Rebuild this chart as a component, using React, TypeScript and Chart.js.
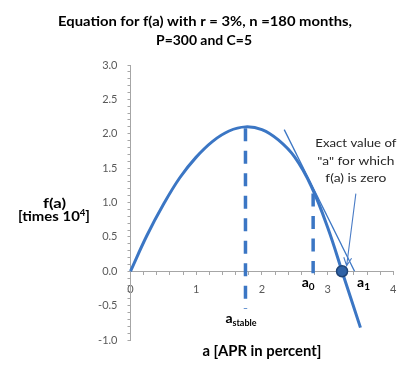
import React, { useEffect, useRef } from 'react';
import { Chart, registerables } from 'chart.js';

Chart.register(...registerables);

// ---- data ----
const curveA = [0, 0.25, 0.5, 0.75, 1.0, 1.25, 1.5, 1.75, 2.0, 2.25, 2.5, 2.75, 3.0, 3.25, 3.5];
const curveF = [0, 0.52, 0.97, 1.36, 1.66, 1.89, 2.04, 2.1, 2.06, 1.91, 1.66, 1.24, 0.64, -0.09, -0.82];
const tangentA = [2.34, 3.41];
const tangentF = [2.06, 0];
const stableA = [1.75, 1.75];
const stableF = [2.08, -0.55];
const a0A = [2.78, 2.78];
const a0F = [1.13, -0.03];
const rootA = [3.22];
const rootF = [0];
const a1Value = 3.41;
const arrowA = [3.43, 3.29];
const arrowF = [1.13, 0.08];
const xMin = 0;
const xMax = 4;
const yMin = -1;
const yMax = 3;
const titleLines = ['Equation for f(a) with r = 3%, n =180 months,', 'P=300 and C=5'];
const noteLines = ['Exact value of', '"a" for which', 'f(a) is zero'];
const xTitle = 'a [APR in percent]';

const BLUE = '#3b76c4';
const FONT = 'Lato, "Noto Sans", sans-serif';

const pts = (xs: number[], ys: number[]) => xs.map((v, i) => ({ x: v, y: ys[i] }));

type Run = { text: string; font: string; dy?: number };

function drawRuns(ctx: CanvasRenderingContext2D, runs: Run[], cx: number, baseline: number, targetW?: number) {
  let total = 0;
  const widths = runs.map((r) => {
    ctx.font = r.font;
    const w = ctx.measureText(r.text).width;
    total += w;
    return w;
  });
  const s = targetW ? targetW / total : 1;
  ctx.save();
  ctx.translate(cx - (total * s) / 2, baseline);
  ctx.scale(s, 1);
  ctx.textAlign = 'left';
  ctx.textBaseline = 'alphabetic';
  let xx = 0;
  runs.forEach((r, i) => {
    ctx.font = r.font;
    ctx.fillText(r.text, xx, r.dy || 0);
    xx += widths[i];
  });
  ctx.restore();
}

const overlay = {
  id: 'overlay',
  afterDraw(chart: any) {
    const { ctx, scales } = chart;
    const x = scales.x;
    const y = scales.y;
    ctx.save();
    ctx.fillStyle = '#000';
    const B14 = `bold 14px ${FONT}`;
    const B15 = `bold 15px ${FONT}`;
    drawRuns(ctx, [{ text: titleLines[0], font: B14 }], 205, 26, 294);
    drawRuns(ctx, [{ text: titleLines[1], font: B14 }], 204, 44.5, 96);
    // y title
    drawRuns(ctx, [{ text: 'f(a)', font: B14 }], 54.5, 208, 23);
    drawRuns(
      ctx,
      [
        { text: '[times 10', font: B14 },
        { text: '4', font: `bold 9px ${FONT}`, dy: -5 },
        { text: ']', font: B14 },
      ],
      54,
      221,
      72
    );
    // x title
    drawRuns(ctx, [{ text: xTitle, font: B15 }], (x.left + x.right) / 2, 356, 119);
    // a labels
    const subF = `bold 9px ${FONT}`;
    const aF = `bold 14px ${FONT}`;
    drawRuns(
      ctx,
      [
        { text: 'a', font: aF },
        { text: 'stable', font: subF, dy: 3 },
      ],
      x.getPixelForValue(stableA[0]) - 4.5,
      322.5
    );
    drawRuns(
      ctx,
      [
        { text: 'a', font: aF },
        { text: '0', font: `bold 10px ${FONT}`, dy: 3 },
      ],
      x.getPixelForValue(a0A[0]) - 5,
      286.5
    );
    drawRuns(
      ctx,
      [
        { text: 'a', font: aF },
        { text: '1', font: `bold 10px ${FONT}`, dy: 3 },
      ],
      x.getPixelForValue(a1Value) + 9,
      286.5
    );
    // note
    ctx.fillStyle = '#262626';
    const R12 = `12px ${FONT}`;
    const noteX = x.getPixelForValue(3.43);
    drawRuns(ctx, [{ text: noteLines[0], font: R12 }], noteX, 146.5, 81);
    drawRuns(ctx, [{ text: noteLines[1], font: R12 }], noteX, 164.5, 77);
    drawRuns(ctx, [{ text: noteLines[2], font: R12 }], noteX, 181.5, 61);
    // arrow
    const x1 = x.getPixelForValue(arrowA[0]);
    const y1 = y.getPixelForValue(arrowF[0]);
    const x2 = x.getPixelForValue(arrowA[1]);
    const y2 = y.getPixelForValue(arrowF[1]);
    ctx.strokeStyle = '#4a7cc6';
    ctx.lineWidth = 1.1;
    ctx.beginPath();
    ctx.moveTo(x1, y1);
    ctx.lineTo(x2, y2);
    const ang = Math.atan2(y2 - y1, x2 - x1);
    const L = 9;
    ctx.moveTo(x2 - L * Math.cos(ang - 0.45), y2 - L * Math.sin(ang - 0.45));
    ctx.lineTo(x2, y2);
    ctx.lineTo(x2 - L * Math.cos(ang + 0.45), y2 - L * Math.sin(ang + 0.45));
    ctx.stroke();
    ctx.restore();
  },
};

const isMultiple = (v: number, step: number) => Math.abs(v / step - Math.round(v / step)) < 1e-6;

export default function App() {
  const ref = useRef<HTMLCanvasElement>(null);
  useEffect(() => {
    const chart = new Chart(ref.current as HTMLCanvasElement, {
      type: 'line',
      data: {
        datasets: [
          {
            data: pts(rootA, rootF),
            showLine: false,
            pointRadius: 5.5,
            pointBackgroundColor: '#2f62a6',
            pointBorderColor: '#1f4477',
            pointBorderWidth: 1.5,
            clip: false,
          } as any,
          {
            data: pts(tangentA, tangentF),
            borderColor: BLUE,
            borderWidth: 1.3,
            pointRadius: 0,
            clip: false,
          },
          {
            data: pts(a0A, a0F),
            borderColor: BLUE,
            borderWidth: 3.5,
            borderDash: [13, 9.5],
            borderCapStyle: 'butt',
            pointRadius: 0,
            clip: false,
          },
          {
            data: pts(stableA, stableF),
            borderColor: BLUE,
            borderWidth: 3.5,
            borderDash: [13, 9.5],
            borderCapStyle: 'butt',
            pointRadius: 0,
            clip: false,
          },
          {
            data: pts(curveA, curveF),
            borderColor: BLUE,
            borderWidth: 3,
            pointRadius: 0,
            tension: 0.4,
            clip: false,
          },
        ],
      },
      options: {
        animation: false,
        responsive: false,
        devicePixelRatio: 1,
        events: [],
        layout: { padding: { left: 90.5, right: 18.7, top: 65, bottom: 39 } },
        plugins: { legend: { display: false }, tooltip: { enabled: false }, title: { display: false } },
        scales: {
          x: {
            type: 'linear',
            position: { y: 0 } as any,
            min: xMin,
            max: xMax,
            ticks: {
              stepSize: 0.2,
              autoSkip: false,
              maxRotation: 0,
              color: '#595959',
              font: { family: FONT, size: 11 },
              padding: 9,
              callback: (v: any) => (isMultiple(Number(v), 1) ? String(Math.round(Number(v))) : ''),
            },
            grid: { drawOnChartArea: false, drawTicks: true, tickLength: 3, color: '#a6a6a6' },
            border: { display: true, color: '#a6a6a6', width: 1 },
          },
          y: {
            type: 'linear',
            position: 'left',
            min: yMin,
            max: yMax,
            afterFit: (s: any) => {
              s.width = 40;
            },
            ticks: {
              stepSize: 0.1,
              autoSkip: false,
              color: '#595959',
              font: { family: FONT, size: 11 },
              padding: 10,
              callback: (v: any) => (isMultiple(Number(v), 0.5) ? Number(v).toFixed(1) : ''),
            },
            grid: { drawOnChartArea: false, drawTicks: true, tickLength: 3, color: '#a6a6a6' },
            border: { display: true, color: '#a6a6a6', width: 1 },
          },
        },
      },
      plugins: [overlay],
    });
    return () => chart.destroy();
  }, []);
  return (
    <div style={{ position: 'fixed', left: 0, top: 0, width: 412, height: 379, background: '#fff' }}>
      <canvas ref={ref} width={412} height={379} style={{ display: 'block', width: 412, height: 379 }} />
    </div>
  );
}
